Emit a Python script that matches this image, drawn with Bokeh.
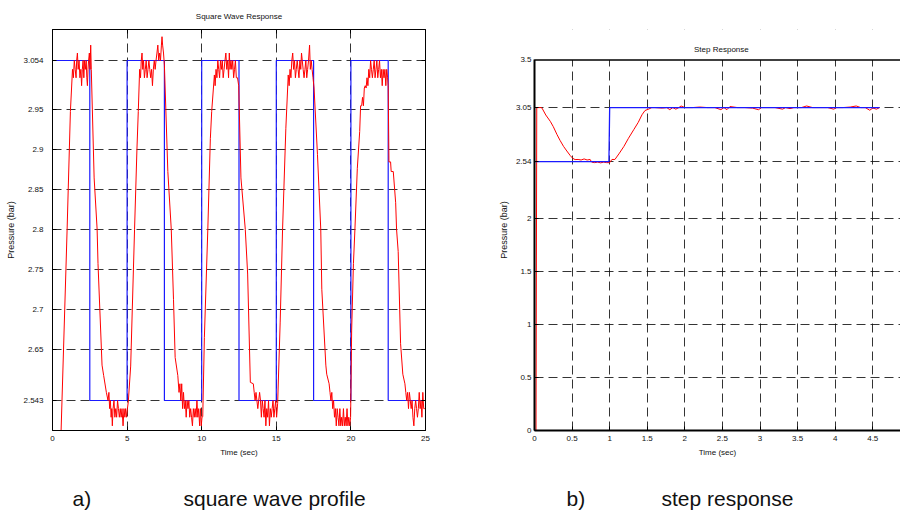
from bokeh.plotting import figure
from bokeh.models import (ColumnDataSource, FixedTicker, LinearAxis, Range1d,
                          CustomJSTransform, Span, Label, BoxAnnotation)
from bokeh.transform import transform
from bokeh.layouts import column, row
from bokeh.core.properties import value
from bokeh.embed import file_html
from bokeh.resources import INLINE

# ---------------- data: a) square wave response ----------------
SQ_SWITCH_T = [0, 2.5, 5, 7.5, 10, 12.5, 15, 17.5, 20, 22.5, 25]
SQ_LEVEL = [3.054, 2.543, 3.054, 2.543, 3.054, 2.543, 3.054, 2.543, 3.054, 2.543, 2.543]

SQ_RESP_T = [
    0.50, 0.98, 1.20, 1.34,
    1.40, 1.46, 1.52, 1.58, 1.62, 1.67, 1.72, 1.78, 1.84, 1.90, 1.95, 2.00, 2.05, 2.10,
    2.15, 2.20, 2.26, 2.30, 2.34, 2.38, 2.42, 2.47, 2.52, 2.56, 2.60,
    2.79, 2.99, 3.05, 3.32, 3.43, 3.61,
    3.72, 3.78, 3.83, 3.88, 3.93, 3.97, 4.01, 4.06, 4.12, 4.18, 4.24, 4.30, 4.36, 4.42,
    4.48, 4.54, 4.60, 4.66, 4.73, 4.79, 4.85, 4.90, 4.96, 5.02,
    5.08, 5.24, 5.50, 5.66, 5.75, 5.84,
    5.90, 5.95, 6.00, 6.05, 6.10, 6.16, 6.22, 6.28, 6.34, 6.40, 6.46, 6.52, 6.58, 6.64,
    6.70, 6.76, 6.82, 6.88, 6.94, 7.00, 7.06, 7.12, 7.18, 7.24, 7.30, 7.34, 7.38, 7.44, 7.50,
    7.73, 7.96, 8.11, 8.22, 8.40,
    8.48, 8.54, 8.60, 8.66, 8.72, 8.78, 8.84, 8.90, 8.96, 9.02, 9.08, 9.14, 9.20, 9.26,
    9.32, 9.38, 9.44, 9.50, 9.56, 9.62, 9.68, 9.74, 9.80, 9.86, 9.92, 9.97, 10.02, 10.07,
    10.18, 10.41, 10.58, 10.67, 10.85,
    10.90, 10.96, 11.02, 11.08, 11.14, 11.20, 11.26, 11.32, 11.38, 11.44, 11.50, 11.56,
    11.62, 11.68, 11.74, 11.80, 11.85, 11.90, 11.96, 12.02, 12.08, 12.14, 12.20, 12.26,
    12.32, 12.40, 12.48,
    12.63, 12.92, 13.08, 13.26, 13.46,
    13.52, 13.58, 13.64, 13.70, 13.76, 13.82, 13.88, 13.94, 14.00, 14.06, 14.12, 14.18,
    14.24, 14.30, 14.36, 14.42, 14.48, 14.54, 14.60, 14.66, 14.72, 14.78, 14.84, 14.90,
    14.96, 15.02, 15.09,
    15.26, 15.42, 15.64, 15.80,
    15.86, 15.92, 15.98, 16.04, 16.10, 16.16, 16.22, 16.28, 16.34, 16.40, 16.46, 16.52,
    16.58, 16.64, 16.69, 16.74, 16.80, 16.86, 16.92, 16.98, 17.04, 17.10, 17.16, 17.23,
    17.28, 17.34, 17.40, 17.46, 17.53,
    17.76, 17.98, 18.05, 18.32, 18.38, 18.54,
    18.60, 18.66, 18.72, 18.78, 18.84, 18.90, 18.96, 19.02, 19.08, 19.14, 19.20, 19.26,
    19.32, 19.38, 19.44, 19.50, 19.56, 19.62, 19.68, 19.74, 19.80, 19.86, 19.92, 19.98,
    20.05, 20.17, 20.27, 20.43, 20.59, 20.65,
    20.72, 20.78, 20.84, 20.90, 20.96, 21.02, 21.08, 21.14, 21.20, 21.26, 21.32, 21.38,
    21.44, 21.50, 21.56, 21.62, 21.68, 21.74, 21.80, 21.86, 21.92, 21.98, 22.04, 22.10,
    22.16, 22.22, 22.28, 22.34, 22.40, 22.46, 22.50,
    22.55, 22.66, 22.70, 22.84, 23.00, 23.06, 23.17, 23.33, 23.48, 23.62,
    23.68, 23.74, 23.80, 23.86, 23.92, 23.98, 24.04, 24.10, 24.16, 24.22, 24.28, 24.34,
    24.40, 24.46, 24.52, 24.58, 24.64, 24.70, 24.76, 24.82, 24.88, 24.94, 25.00,
]
SQ_RESP_P = [
    2.400, 2.800, 2.947, 3.035,
    3.017, 3.054, 3.035, 3.017, 3.054, 3.070, 3.035, 3.054, 3.017, 3.035, 3.000, 3.035, 3.054, 3.017,
    3.054, 3.035, 3.054, 3.017, 3.000, 3.035, 3.054, 3.070, 3.035, 3.087, 3.035,
    2.864, 2.800, 2.757, 2.617, 2.595, 2.560,
    2.543, 2.560, 2.526, 2.543, 2.508, 2.526, 2.490, 2.526, 2.543, 2.508, 2.526, 2.508, 2.543, 2.526,
    2.508, 2.526, 2.508, 2.526, 2.490, 2.526, 2.508, 2.526, 2.508, 2.526,
    2.540, 2.615, 2.800, 2.900, 2.947, 3.035,
    3.017, 3.054, 3.070, 3.035, 3.054, 3.017, 3.035, 3.054, 3.017, 3.035, 3.054, 3.035, 3.017, 3.035,
    3.000, 3.035, 3.054, 3.035, 3.054, 3.070, 3.087, 3.054, 3.070, 3.054, 3.087, 3.105, 3.087, 3.070, 3.044,
    2.872, 2.800, 2.712, 2.633, 2.595,
    2.560, 2.578, 2.543, 2.578, 2.526, 2.560, 2.526, 2.543, 2.508, 2.543, 2.526, 2.543, 2.508, 2.526,
    2.508, 2.490, 2.526, 2.508, 2.526, 2.508, 2.543, 2.508, 2.526, 2.490, 2.526, 2.490, 2.508, 2.509,
    2.665, 2.800, 2.913, 2.947, 3.023,
    3.000, 3.035, 3.017, 3.054, 3.035, 3.017, 3.054, 3.035, 3.054, 3.017, 3.035, 3.054,
    3.070, 3.035, 3.054, 3.017, 3.070, 3.035, 3.054, 3.035, 3.054, 3.017, 3.035, 3.054,
    3.017, 3.017, 3.000,
    2.864, 2.800, 2.744, 2.581, 2.578,
    2.560, 2.543, 2.560, 2.543, 2.526, 2.543, 2.560, 2.543, 2.508, 2.543, 2.526, 2.508,
    2.543, 2.490, 2.526, 2.508, 2.543, 2.490, 2.526, 2.508, 2.526, 2.543, 2.508, 2.526,
    2.543, 2.508, 2.537,
    2.684, 2.800, 2.926, 3.023,
    3.000, 3.035, 3.017, 3.054, 3.070, 3.035, 3.054, 3.017, 3.035, 3.054, 3.035, 3.017,
    3.054, 3.035, 3.070, 3.054, 3.035, 3.017, 3.035, 3.054, 3.017, 3.035, 3.054, 3.087,
    3.035, 3.054, 3.035, 3.017, 2.995,
    2.893, 2.800, 2.725, 2.617, 2.598, 2.578,
    2.560, 2.543, 2.560, 2.526, 2.543, 2.508, 2.526, 2.490, 2.526, 2.508, 2.490, 2.526,
    2.490, 2.508, 2.490, 2.526, 2.490, 2.508, 2.490, 2.526, 2.490, 2.508, 2.490, 2.508,
    2.673, 2.757, 2.800, 2.876, 2.922, 2.957,
    2.957, 2.975, 2.957, 2.995, 3.000, 2.995, 3.017, 3.000, 3.035, 3.017, 3.054, 3.035,
    3.017, 3.035, 3.054, 3.017, 3.035, 3.054, 3.017, 3.035, 3.054, 3.017, 3.035, 3.000,
    3.035, 3.017, 3.035, 3.000, 3.035, 3.017, 3.000,
    2.884, 2.884, 2.872, 2.872, 2.833, 2.800, 2.772, 2.657, 2.598, 2.578,
    2.560, 2.543, 2.560, 2.526, 2.560, 2.543, 2.526, 2.543, 2.508, 2.490, 2.526, 2.543,
    2.526, 2.508, 2.526, 2.560, 2.526, 2.543, 2.508, 2.560, 2.526, 2.526, 2.526,
]

SQ_XTICKS = [0, 5, 10, 15, 20, 25]
SQ_XTICK_LABELS = ["0", "5", "10", "15", "20", "25"]
SQ_YTICKS = [2.543, 2.65, 2.7, 2.75, 2.8, 2.85, 2.9, 2.95, 3.054]
SQ_YTICK_LABELS = ["2.543", "2.65", "2.7", "2.75", "2.8", "2.85", "2.9", "2.95", "3.054"]

# ---------------- data: b) step response ----------------
STEP_REF_T = [0.0, 0.99, 1.00, 4.59]
STEP_REF_P = [2.54, 2.54, 3.05, 3.05]

STEP_RESP_T = [
    0.02, 0.03, 0.09, 0.10, 0.15, 0.21, 0.25, 0.30, 0.34, 0.386, 0.43, 0.475, 0.51, 0.54,
    0.58, 0.62, 0.66, 0.70, 0.74, 0.76, 0.80, 0.84, 0.88, 0.92, 0.96, 1.00, 1.03, 1.07,
    1.13, 1.19, 1.25, 1.32, 1.38, 1.43, 1.47, 1.52, 1.56,
    1.60, 1.70, 1.76, 1.80, 1.84, 1.88, 1.92, 1.95, 2.00, 2.10, 2.20, 2.30, 2.40, 2.48,
    2.52, 2.56, 2.60, 2.70, 2.80, 2.90, 2.98, 3.02, 3.10, 3.20, 3.30, 3.34, 3.40, 3.45,
    3.55, 3.62, 3.70, 3.80, 3.90, 3.98, 4.02, 4.10, 4.20, 4.28, 4.34, 4.40, 4.46, 4.50,
    4.55, 4.59,
]
STEP_RESP_P = [
    0.0, 3.05, 3.05, 3.045, 2.98, 2.92, 2.87, 2.794, 2.74, 2.684, 2.64, 2.597, 2.57, 2.559,
    2.56, 2.555, 2.565, 2.555, 2.56, 2.535, 2.53, 2.535, 2.528, 2.535, 2.53, 2.53, 2.56, 2.56,
    2.62, 2.684, 2.76, 2.841, 2.91, 2.982, 3.022, 3.036, 3.05,
    3.05, 3.045, 3.05, 3.03, 3.05, 3.035, 3.05, 3.065, 3.05, 3.05, 3.055, 3.05, 3.05, 3.03,
    3.05, 3.03, 3.06, 3.05, 3.05, 3.045, 3.03, 3.05, 3.05, 3.05, 3.035, 3.05, 3.04, 3.05,
    3.05, 3.065, 3.05, 3.05, 3.05, 3.035, 3.05, 3.05, 3.055, 3.065, 3.05, 3.05, 3.025, 3.045,
    3.035, 3.05,
]

STEP_XTICKS = [0, 0.5, 1, 1.5, 2, 2.5, 3, 3.5, 4, 4.5]
STEP_XTICK_LABELS = ["0", "0.5", "1", "1.5", "2", "2.5", "3", "3.5", "4", "4.5"]
STEP_YTICKS = [0, 0.5, 1, 1.5, 2, 2.54, 3.05, 3.5]
STEP_YTICK_LABELS = ["0", "0.5", "1", "1.5", "2", "2.54", "3.05", "3.5"]
STEP_YMAX = 3.5

CAPTIONS = ["a)", "square wave profile", "b)", "step response"]

# ---------------- styling ----------------
FONT = "Liberation Sans"
RED = "#ff0000"
BLUE = "#1a1aff"
GRID_DASH = "9 5"

# The left chart's pressure axis is evenly spaced between 2.65 and 2.95 and
# compressed outside that band (as in the original figure).
LIN_LO, LIN_HI = 2.65, 2.95
K_HI, K_LO = 0.5827, 0.597


def to_axis(v):
    if v > LIN_HI:
        return LIN_HI + (v - LIN_HI) * K_HI
    if v < LIN_LO:
        return LIN_LO - (LIN_LO - v) * K_LO
    return v


ytr = CustomJSTransform(
    args=dict(hi=LIN_HI, lo=LIN_LO, ks=K_HI, kl=K_LO),
    func="return x > hi ? hi + (x - hi) * ks : (x < lo ? lo - (lo - x) * kl : x);",
    v_func="""
const out = new Array(xs.length);
for (let i = 0; i < xs.length; i++) {
  const v = xs[i];
  out[i] = v > hi ? hi + (v - hi) * ks : (v < lo ? lo - (lo - v) * kl : v);
}
return out;
""")


def style_axis(ax, ticks, labels, show=True, standoff=5, line_width=1):
    ax.ticker = FixedTicker(ticks=list(ticks))
    ax.major_label_overrides = {t: l for t, l in zip(ticks, labels)}
    ax.major_tick_in = 4
    ax.major_tick_out = 0
    ax.major_tick_line_color = "black"
    ax.minor_tick_line_color = None
    ax.axis_line_color = "black"
    ax.axis_line_width = line_width
    ax.major_label_text_font = FONT
    ax.major_label_text_color = "#111111"
    ax.major_label_standoff = standoff
    if show:
        ax.major_label_text_font_size = "8px"
    else:
        ax.major_label_text_font_size = "0px"
        ax.major_label_text_alpha = 0
        ax.major_label_standoff = 0
    ax.axis_label_text_font = FONT
    ax.axis_label_text_font_size = "8px"
    ax.axis_label_text_font_style = "normal"
    ax.axis_label_text_color = "#111111"
    ax.axis_label_standoff = 4


def style_grid(p, xt, yt):
    p.xgrid.ticker = FixedTicker(ticks=list(xt))
    p.ygrid.ticker = FixedTicker(ticks=list(yt))
    for g in (p.xgrid, p.ygrid):
        g.grid_line_color = "#111111"
        g.grid_line_dash = GRID_DASH
        g.grid_line_width = 1
        g.grid_line_alpha = 0.85


# both plots share the same top/bottom borders (Bokeh aligns frames in a row)
FIG_H = 460
BORDER_TOP = 28
BORDER_BOTTOM = 30

# ---------------- a) square wave ----------------
sq_ticks_axis = [to_axis(v) for v in SQ_YTICKS]
Y1_HI = 3.0493
Y1_LO = Y1_HI - (FIG_H - BORDER_TOP - BORDER_BOTTOM) / 803.0

p1 = figure(width=450, height=FIG_H, x_range=Range1d(0, 25), y_range=Range1d(Y1_LO, Y1_HI),
            output_backend="svg", toolbar_location=None, title="Square Wave Response",
            min_border_left=52, min_border_right=25,
            min_border_top=BORDER_TOP, min_border_bottom=BORDER_BOTTOM)
p1.title.align = "center"
p1.title.text_font = FONT
p1.title.text_font_size = "8px"
p1.title.text_font_style = "normal"
p1.title.text_color = "#111111"
p1.title.standoff = 18
p1.outline_line_color = "black"
p1.background_fill_color = "white"
p1.border_fill_color = "white"

style_axis(p1.xaxis[0], SQ_XTICKS, SQ_XTICK_LABELS, standoff=5)
p1.xaxis[0].axis_label = "Time (sec)"
style_axis(p1.yaxis[0], sq_ticks_axis, SQ_YTICK_LABELS, standoff=9)
p1.yaxis[0].axis_label = "Pressure (bar)"
p1.yaxis[0].axis_label_text_font_size = "9px"
top1 = LinearAxis()
style_axis(top1, SQ_XTICKS, SQ_XTICK_LABELS, show=False)
p1.add_layout(top1, "above")
right1 = LinearAxis()
style_axis(right1, sq_ticks_axis, SQ_YTICK_LABELS, show=False)
p1.add_layout(right1, "right")
style_grid(p1, SQ_XTICKS, sq_ticks_axis)

sq_ref = ColumnDataSource(dict(t=SQ_SWITCH_T, p=SQ_LEVEL))
sq_resp = ColumnDataSource(dict(t=SQ_RESP_T, p=SQ_RESP_P))
p1.step(x="t", y=transform("p", ytr), source=sq_ref, mode="after",
        line_color=BLUE, line_width=1.2)
p1.line(x="t", y=transform("p", ytr), source=sq_resp, line_color=RED, line_width=1)

# ---------------- b) step response ----------------
X2_END = 4.869
PX_PER_BAR = 106.14
Y2_END = (FIG_H - BORDER_TOP - BORDER_BOTTOM) / PX_PER_BAR

p2 = figure(width=450, height=FIG_H, x_range=Range1d(0, X2_END), y_range=Range1d(0, Y2_END),
            output_backend="svg", toolbar_location=None, title=None,
            min_border_left=84, min_border_right=0,
            min_border_top=BORDER_TOP, min_border_bottom=BORDER_BOTTOM)
p2.outline_line_color = None
p2.background_fill_color = "white"
p2.border_fill_color = "white"

style_axis(p2.xaxis[0], STEP_XTICKS, STEP_XTICK_LABELS, standoff=5, line_width=2)
p2.xaxis[0].axis_label = "Time (sec)"
style_axis(p2.yaxis[0], STEP_YTICKS, STEP_YTICK_LABELS, standoff=3, line_width=2)
p2.yaxis[0].axis_label = "Pressure (bar)"
p2.yaxis[0].axis_label_text_font_size = "9px"
p2.yaxis[0].bounds = (0, STEP_YMAX)
style_grid(p2, STEP_XTICKS, STEP_YTICKS)
# blank the strip above the plot box, then draw its top edge and the title
p2.add_layout(BoxAnnotation(bottom=STEP_YMAX, fill_color="white", fill_alpha=1,
                            line_color=None, level="annotation"))
p2.add_layout(Span(location=STEP_YMAX, dimension="width", line_color="black", line_width=1.5))
p2.add_layout(Label(x=2.486, y=STEP_YMAX, y_offset=6, text="Step Response",
                    text_align="center", text_baseline="bottom", text_font=FONT,
                    text_font_size="8px", text_color="#111111"))

st_ref = ColumnDataSource(dict(t=STEP_REF_T, p=STEP_REF_P))
st_resp = ColumnDataSource(dict(t=STEP_RESP_T, p=STEP_RESP_P))
p2.line(x="t", y="p", source=st_resp, line_color=RED, line_width=1)
p2.line(x="t", y="p", source=st_ref, line_color=BLUE, line_width=1.3)

# ---------------- captions ----------------
p3 = figure(width=900, height=51, x_range=Range1d(0, 900), y_range=Range1d(0, 51),
            output_backend="svg", toolbar_location=None, min_border=0, title=None)
p3.axis.visible = False
p3.grid.visible = False
p3.outline_line_color = None
p3.background_fill_color = "white"
p3.border_fill_color = "white"
cap_src = ColumnDataSource(dict(x=[72, 183, 566, 661], y=[13, 13, 13, 13], text=CAPTIONS))
p3.text(x="x", y="y", text="text", source=cap_src, text_font=value(FONT),
        text_font_size="21px", text_color="#111111", text_baseline="alphabetic",
        text_align="left")

layout = column(row(p1, p2), p3)
open("out.html", "w").write(file_html(layout, INLINE))
